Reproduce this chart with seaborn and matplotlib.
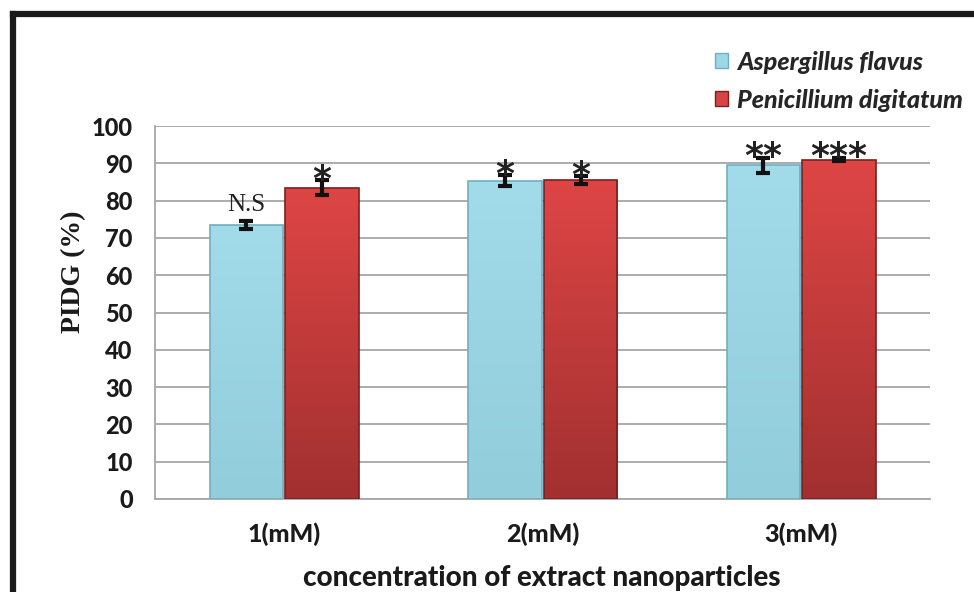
import numpy as np
import pandas as pd
import matplotlib
matplotlib.use("Agg")
import matplotlib.pyplot as plt
import seaborn as sns
from matplotlib.lines import Line2D
from matplotlib.colors import LinearSegmentedColormap

# data
concentrations = ["1(mM)", "2(mM)", "3(mM)"]
species = ["Aspergillus flavus", "Penicillium digitatum"]
aspergillus_vals = [73.5, 85.3, 89.5]
penicillium_vals = [83.5, 85.5, 91.0]
aspergillus_err = [1.0, 1.5, 2.0]
penicillium_err = [2.0, 1.0, 0.5]
aspergillus_sig = ["N.S", "*", "**"]
penicillium_sig = ["*", "*", "***"]

df = pd.DataFrame({
    "conc": concentrations * 2,
    "species": [species[0]] * 3 + [species[1]] * 3,
    "pidg": aspergillus_vals + penicillium_vals,
    "err": aspergillus_err + penicillium_err,
    "sig": aspergillus_sig + penicillium_sig,
})

sns.set_style("white")
plt.rcParams["font.family"] = ["Lato", "DejaVu Sans"]
plt.rcParams["font.weight"] = 900

fig = plt.figure(figsize=(9.74, 5.92), dpi=100)
ax = fig.add_axes([155 / 974, 1 - 499 / 592, (930.5 - 155) / 974, (499 - 126) / 592])

blue = "#9DD8E8"
red = "#D84343"
sns.barplot(data=df, x="conc", y="pidg", hue="species", hue_order=species,
            order=concentrations, palette=[blue, red], width=0.585, gap=0.03,
            errorbar=None, ax=ax, zorder=3, edgecolor="none")

# gradient shading on the bars
grads = {
    0: LinearSegmentedColormap.from_list("b", ["#92CDDC", "#A2DBEA"]),
    1: LinearSegmentedColormap.from_list("r", ["#A23030", "#DE4545"]),
}
bars = [p for p in ax.patches if p.get_height() > 0]
for i, p in enumerate(bars):
    k = i // 3
    x0, w, h = p.get_x(), p.get_width(), p.get_height()
    im = ax.imshow(np.linspace(0, 1, 100).reshape(-1, 1), cmap=grads[k], origin="lower",
                   extent=[x0, x0 + w, 0, h], aspect="auto", zorder=3.5)
    im.set_clip_path(p)
    edge = "#72AEBE" if k == 0 else "#7A2020"
    ax.add_patch(plt.Rectangle((x0, 0), w, h, fill=False, ec=edge, lw=1.2, zorder=4))

# error bars and significance labels
for i, p in enumerate(bars):
    row = df.iloc[i]
    xc = p.get_x() + p.get_width() / 2
    ax.errorbar(xc, row["pidg"], yerr=row["err"], fmt="none", ecolor="#111111",
                elinewidth=3, capsize=5, capthick=3, zorder=5)
    if row["sig"] == "N.S":
        ax.text(xc, row["pidg"] + row["err"] + 1.5, row["sig"], ha="center", va="bottom",
                fontsize=18, family="Liberation Serif", fontweight="normal",
                color="#222222", zorder=6)
    else:
        ax.text(xc, row["pidg"] + row["err"] - 2.6, row["sig"], ha="center", va="baseline",
                fontsize=26, family="DejaVu Sans", fontweight="bold",
                color="#222222", zorder=6)

ax.set_xlim(-0.5, 2.5)
ax.set_ylim(0, 100)
ax.set_yticks(range(0, 101, 10))
ax.yaxis.grid(True, color="#A6A6A6", lw=1.3, zorder=0)
ax.set_axisbelow(True)
for s in ["top", "right"]:
    ax.spines[s].set_visible(False)
for s in ["left", "bottom"]:
    ax.spines[s].set_color("#A6A6A6")
    ax.spines[s].set_linewidth(1.3)

ax.tick_params(axis="y", length=8, width=1.3, color="#A6A6A6", direction="out", pad=8,
               labelsize=17, labelcolor="#1A1A1A")
ax.set_xticks([-0.5, 0.5, 1.5, 2.5], minor=True)
ax.tick_params(axis="x", which="minor", length=8, width=1.3, color="#A6A6A6", direction="out")
ax.tick_params(axis="x", which="major", length=0, pad=17, labelsize=18, labelcolor="#1A1A1A")

ax.set_xlabel("")
ax.set_ylabel("PIDG (%)", fontsize=20, fontweight="bold", family="Liberation Serif",
              color="#1A1A1A")
ax.yaxis.set_label_coords(86 / 974, 1 - 272 / 592, transform=fig.transFigure)
fig.text(542 / 974, 1 - 578 / 592, "concentration of extract nanoparticles", ha="center",
         va="center", fontsize=20, color="#1A1A1A")

# legend
handles = [plt.Rectangle((0, 0), 1, 1, fc=blue, ec="#72AEBE"),
           plt.Rectangle((0, 0), 1, 1, fc=red, ec="#7A2020")]
ax.legend(handles, species, loc="upper left", bbox_to_anchor=(692 / 974, 1 - 28 / 592),
          bbox_transform=fig.transFigure, frameon=False, handlelength=0.55, handleheight=0.55,
          handletextpad=0.35, labelspacing=0.6,
          prop={"size": 18, "weight": 900, "style": "italic", "family": "Lato"})

# outer frame (top and left only visible)
fig.add_artist(Line2D([12.5 / 974, 12.5 / 974], [0, 1 - 14 / 592], color="#1A1A1A", lw=4.5,
                      transform=fig.transFigure, solid_capstyle="projecting"))
fig.add_artist(Line2D([12.5 / 974, 1], [1 - 14 / 592, 1 - 14 / 592], color="#1A1A1A", lw=4.5,
                      transform=fig.transFigure, solid_capstyle="projecting"))

fig.savefig("out.png", dpi=100)
